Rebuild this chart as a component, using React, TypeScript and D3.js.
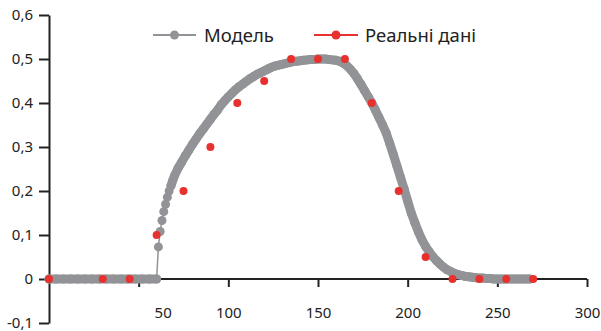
import React, { useRef, useEffect } from 'react';
import * as d3 from 'd3';

// model curve
const modelX = [
  0, 4, 8, 12, 16, 20, 24, 28, 32, 36, 40, 44, 48, 52, 56, 60,
  61, 62, 63, 64, 65, 66, 67, 68, 69, 70,
  72, 74, 76, 78, 80, 82, 84, 86, 88, 90, 92, 94, 96, 98,
  100, 102, 104, 106, 108, 110, 112, 114, 116, 118,
  120, 122, 124, 126, 128, 130, 132, 134, 136, 138,
  140, 142, 144, 146, 148, 150, 152, 154, 156, 158,
  160, 162, 164, 166, 168, 170, 172, 174, 176, 178,
  180, 182, 184, 186, 188, 190, 192, 194, 196, 198,
  200, 202, 204, 206, 208, 210, 212, 214, 216, 218,
  220, 222, 224, 226, 228, 230, 232, 234, 236, 238,
  240, 242, 244, 246, 248, 250, 252, 254, 256, 258,
  260, 262, 264, 266, 268,
];
const modelY = [
  0, 0, 0, 0, 0, 0, 0, 0, 0, 0, 0, 0, 0, 0, 0, 0,
  0.073, 0.108, 0.133, 0.153, 0.17, 0.186, 0.2, 0.212, 0.224, 0.235,
  0.252, 0.266, 0.28, 0.293, 0.306, 0.318, 0.33, 0.341, 0.352, 0.363, 0.374, 0.384, 0.396, 0.405,
  0.414, 0.422, 0.43, 0.437, 0.443, 0.449, 0.455, 0.46, 0.465, 0.469,
  0.473, 0.477, 0.481, 0.484, 0.486, 0.488, 0.49, 0.492, 0.494, 0.495,
  0.496, 0.497, 0.498, 0.499, 0.499, 0.5, 0.5, 0.5, 0.499, 0.498,
  0.497, 0.495, 0.491, 0.485, 0.477, 0.467, 0.455, 0.442, 0.428, 0.414,
  0.4, 0.384, 0.367, 0.35, 0.332, 0.308, 0.283, 0.257, 0.231, 0.205,
  0.177, 0.15, 0.128, 0.107, 0.089, 0.074, 0.062, 0.051, 0.042, 0.034,
  0.027, 0.021, 0.017, 0.013, 0.01, 0.008, 0.006, 0.005, 0.004, 0.003,
  0.002, 0.002, 0.001, 0.001, 0, 0, 0, 0, 0, 0,
  0, 0, 0, 0, 0,
];

// measured data
const dataX = [0, 30, 45, 60, 75, 90, 105, 120, 135, 150, 165, 180, 195, 210, 225, 240, 255, 270];
const dataY = [0, 0, 0, 0.1, 0.2, 0.3, 0.4, 0.45, 0.5, 0.5, 0.5, 0.4, 0.2, 0.05, 0, 0, 0, 0];

const xTicks = [50, 100, 150, 200, 250, 300];
const yTicks = [-0.1, 0, 0.1, 0.2, 0.3, 0.4, 0.5, 0.6];
const legendLabels = ['Модель', 'Реальні дані'];

const GREY = '#929396';
const RED = '#e8312f';
const FONT = '"Noto Sans", sans-serif';

const App = () => {
  const svgRef = useRef<SVGSVGElement>(null);
  const width = 601;
  const height = 331;

  useEffect(() => {
    const svg = d3.select(svgRef.current);
    svg.selectAll('*').remove();

    const x = d3.scaleLinear().domain([0, 300]).range([49, 587]);
    const y = d3.scaleLinear().domain([-0.1, 0.6]).range([323, 15]);

    const fmt = (v: number) => (v === 0 ? '0' : d3.format('.1f')(v).replace('.', ',').replace('−', '-'));

    // x axis
    const xg = svg.append('g')
      .attr('transform', `translate(0,${y(0)})`)
      .call(d3.axisBottom(x).tickValues(xTicks).tickSize(8).tickSizeOuter(0).tickPadding(20));
    xg.select('.domain').attr('stroke', '#222').attr('stroke-width', 2).attr('d', `M${x(0)},0H${x(300)}`);
    xg.selectAll('.tick line').attr('stroke', '#222').attr('stroke-width', 2);
    xg.selectAll('.tick text')
      .attr('font-family', FONT).attr('font-size', 15).attr('fill', '#222')
      .attr('dx', (d: any) => (d === 50 ? 24 : 0));

    // y axis
    const yg = svg.append('g')
      .attr('transform', `translate(${x(0)},0)`)
      .call(d3.axisLeft(y).tickValues(yTicks).tickFormat(fmt as any).tickSize(10).tickSizeOuter(0).tickPadding(6));
    yg.select('.domain').attr('stroke', '#222').attr('stroke-width', 2);
    yg.selectAll('.tick line').attr('stroke', '#222').attr('stroke-width', 2);
    yg.selectAll('.tick text')
      .attr('font-family', FONT).attr('font-size', 15).attr('fill', '#222');

    // model: dense markers read as a thick band; the steep start stays as separate dots
    const model = modelX.map((v, i) => [v, modelY[i]] as [number, number]);
    const line = d3.line<[number, number]>().x((d) => x(d[0])).y((d) => y(d[1]));
    const jump = modelY.findIndex((v) => v > 0);
    const dense = modelX.findIndex((v) => v >= 68);
    svg.append('path').datum(model)
      .attr('d', line).attr('fill', 'none').attr('stroke', GREY).attr('stroke-width', 1.5);
    [model.slice(0, jump), model.slice(dense)].forEach((seg) => {
      svg.append('path').datum(seg)
        .attr('d', line).attr('fill', 'none').attr('stroke', GREY)
        .attr('stroke-width', 9).attr('stroke-linecap', 'round').attr('stroke-linejoin', 'round');
    });
    svg.append('g').selectAll('circle').data(model).enter().append('circle')
      .attr('cx', (d) => x(d[0])).attr('cy', (d) => y(d[1])).attr('r', 4.5).attr('fill', GREY);

    // real data
    svg.append('g').selectAll('circle').data(dataX).enter().append('circle')
      .attr('cx', (d) => x(d)).attr('cy', (d, i) => y(dataY[i])).attr('r', 4).attr('fill', RED);

    // legend
    const items = [
      { label: legendLabels[0], color: GREY, x0: 153, x1: 196, tx: 204 },
      { label: legendLabels[1], color: RED, x0: 314, x1: 358, tx: 365 },
    ];
    const lg = svg.append('g');
    items.forEach((it) => {
      lg.append('line').attr('x1', it.x0).attr('x2', it.x1).attr('y1', 35).attr('y2', 35)
        .attr('stroke', it.color).attr('stroke-width', 2);
      lg.append('circle').attr('cx', (it.x0 + it.x1) / 2).attr('cy', 35).attr('r', 4.5).attr('fill', it.color);
      lg.append('text').attr('x', it.tx).attr('y', 42).text(it.label)
        .attr('font-family', FONT).attr('font-size', 18.5).attr('fill', '#222');
    });
  }, []);

  return (
    <svg ref={svgRef} width={width} height={height}
      style={{ position: 'absolute', left: 0, top: 0, background: '#fff' }} />
  );
};

export default App;
